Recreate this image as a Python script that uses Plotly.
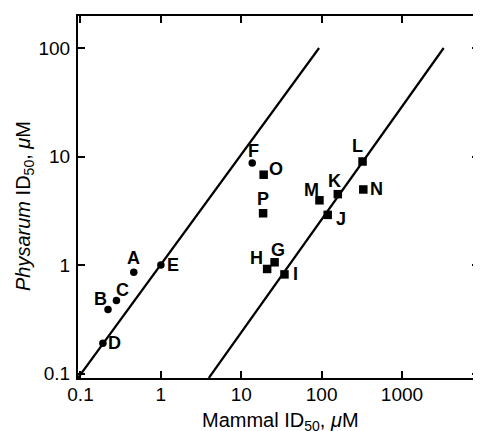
import math
import plotly.graph_objects as go

# --- data ---
circle_labels = ["A", "B", "C", "D", "E", "F"]
circle_mammal = [0.46, 0.22, 0.28, 0.19, 1.0, 13.7]
circle_physarum = [0.86, 0.39, 0.47, 0.19, 1.0, 8.7]

square_labels = ["G", "H", "I", "J", "K", "L", "M", "N", "O", "P"]
square_mammal = [26, 21, 34.5, 119, 159, 323, 94, 330, 19, 18.7]
square_physarum = [1.06, 0.92, 0.82, 2.9, 4.5, 9.0, 3.95, 4.97, 6.8, 3.0]

line1_x = [0.093, 93]
line1_y = [0.091, 100]
line2_x = [3.95, 3300]
line2_y = [0.091, 100]

x_ticks = [0.1, 1, 10, 100, 1000]
x_ticktext = ["0.1", "1", "10", "100", "1000"]
y_ticks = [0.1, 1, 10, 100]
y_ticktext = ["0.1", "1", "10", "100"]

x_title = "Mammal ID<sub>50</sub>, <i>μ</i>M"
y_title = "<i>Physarum</i> ID<sub>50</sub>, <i>μ</i>M"

# label offsets in pixels (style, not data)
label_offsets = {
    "A": (0, -14), "B": (-8, -10), "C": (6, -11), "D": (12, 0), "E": (12, 0),
    "F": (1, -12), "G": (3, -12), "H": (-11, -11), "I": (11, 0), "J": (13, 4),
    "K": (-3, -13), "L": (-5, -15), "M": (-8, -10), "N": (13, 0), "O": (12, -6),
    "P": (0, -14),
}

FONT = "Liberation Sans, Arial, Helvetica, sans-serif"

fig = go.Figure()
for lx, ly in [(line1_x, line1_y), (line2_x, line2_y)]:
    fig.add_trace(go.Scatter(x=lx, y=ly, mode="lines",
                             line=dict(color="black", width=2.2), hoverinfo="skip"))

fig.add_trace(go.Scatter(x=circle_mammal, y=circle_physarum, mode="markers",
                         marker=dict(symbol="circle", size=7.5, color="black")))
fig.add_trace(go.Scatter(x=square_mammal, y=square_physarum, mode="markers",
                         marker=dict(symbol="square", size=8.5, color="black")))

for labs, xs, ys in [(circle_labels, circle_mammal, circle_physarum),
                     (square_labels, square_mammal, square_physarum)]:
    for lab, xv, yv in zip(labs, xs, ys):
        dx, dy = label_offsets[lab]
        fig.add_annotation(x=math.log10(xv), y=math.log10(yv), xref="x", yref="y",
                           text="<b>%s</b>" % lab,
                           showarrow=False, xshift=dx, yshift=-dy,
                           font=dict(family=FONT, size=18, color="black"))

# axis titles as annotations for precise placement
fig.add_annotation(x=0.5, y=0, xref="paper", yref="paper", text=x_title,
                   showarrow=False, yanchor="middle", yshift=-43, xshift=2,
                   font=dict(family=FONT, size=20, color="black"))
fig.add_annotation(x=0, y=0.5, xref="paper", yref="paper", text=y_title,
                   showarrow=False, textangle=-90, xanchor="center", yanchor="middle",
                   xshift=-54, yshift=-9,
                   font=dict(family=FONT, size=20, color="black"))

axis_common = dict(
    type="log", showgrid=False, zeroline=False, showline=True, linecolor="black",
    linewidth=2, mirror="ticks", ticks="inside", ticklen=7, tickwidth=2,
    tickcolor="black", tickfont=dict(family=FONT, size=19, color="black"),
    automargin=False,
)

fig.update_xaxes(range=[-1.031, 3.958], tickvals=x_ticks, ticktext=x_ticktext,
                 ticklabelstandoff=-2, **axis_common)
fig.update_yaxes(range=[-1.041, 2.295], tickvals=y_ticks, ticktext=y_ticktext,
                 ticklabelstandoff=2, **axis_common)

# the page body adds an 8px offset, so the figure is sized/shifted to compensate
fig.update_layout(width=473, height=423, showlegend=False,
                  margin=dict(l=70, r=2, t=8, b=53),
                  paper_bgcolor="white", plot_bgcolor="white")

fig.write_html("out.html")
